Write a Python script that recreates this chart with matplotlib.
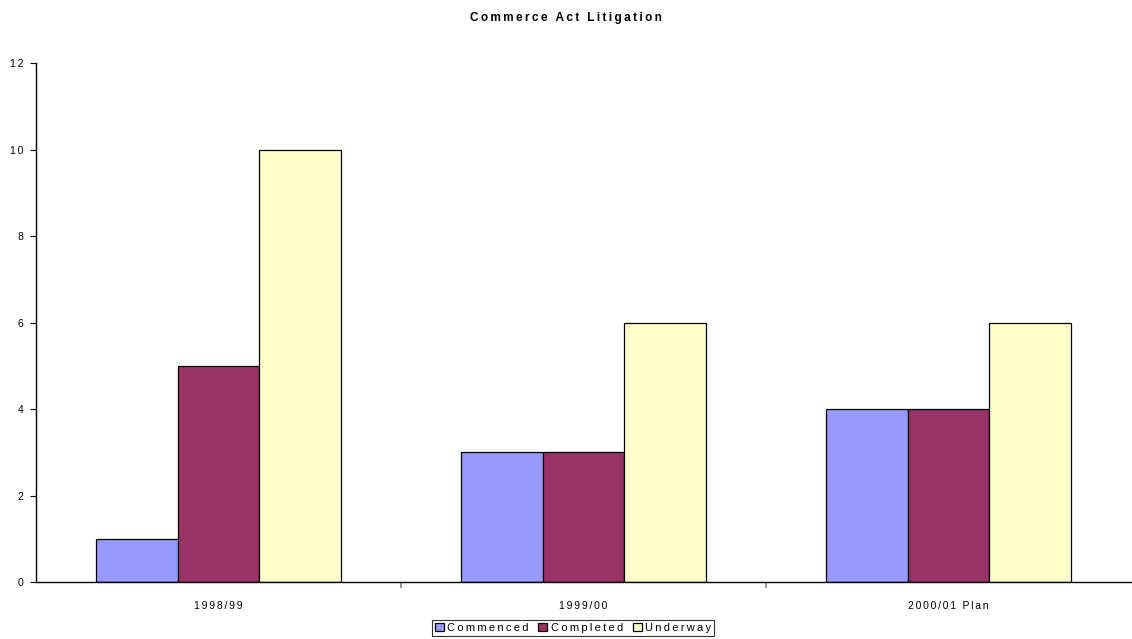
import numpy as np
import matplotlib.pyplot as plt

plt.rcParams['font.family'] = ['Liberation Sans', 'DejaVu Sans']

categories = ["1998/99", "1999/00", "2000/01 Plan"]
commenced = [1, 3, 4]
completed = [5, 3, 4]
underway = [10, 6, 6]

series = [
    ("Commenced", commenced, "#9999FF"),
    ("Completed", completed, "#993366"),
    ("Underway", underway, "#FFFFCC"),
]


def spaced(s, gap="\u2009"):
    # widen the tracking a little with narrow spaces between letters
    return gap.join(s)


fig = plt.figure(figsize=(11.32, 6.39), dpi=100)
ax = fig.add_axes([36 / 1132, 57 / 639, 1095 / 1132, 519 / 639])

x = np.arange(len(categories))
width = 0.224
for i, (name, vals, color) in enumerate(series):
    ax.bar(x + (i - 1) * width, vals, width, color=color,
           edgecolor="black", linewidth=0.9, label=spaced(name))

ax.set_xlim(-0.5, len(categories) - 0.5)
ax.set_ylim(0, 12)
ax.set_yticks(range(0, 13, 2))
ax.set_yticklabels([spaced(str(v), "\u2006") for v in range(0, 13, 2)])
ax.tick_params(axis="y", direction="out", length=4, width=0.8,
               labelsize=7.5, pad=5)

# category boundaries get the tick marks, labels sit at the centres
ax.set_xticks([0.5, 1.5])
ax.set_xticklabels([])
ax.tick_params(axis="x", which="major", direction="out", length=4,
               width=1.2, color="#888888")
ax.set_xticks(x, minor=True)
ax.set_xticklabels([spaced(c, "\u2006") for c in categories], minor=True,
                   fontsize=7.5)
ax.tick_params(axis="x", which="minor", length=0, pad=14)

for side in ["top", "right"]:
    ax.spines[side].set_visible(False)
for side in ["left", "bottom"]:
    ax.spines[side].set_linewidth(1.0)

fig.text(0.5, 1 - 18 / 639, spaced("Commerce Act Litigation"), ha="center",
         va="center", fontsize=8.5, fontweight="bold")

leg = fig.legend(loc="center", bbox_to_anchor=(573 / 1132, 11 / 639),
                 ncol=3, fontsize=8, frameon=True, fancybox=False,
                 handlelength=0.8, handleheight=0.8, handletextpad=0.3,
                 columnspacing=0.9, borderpad=0.25, borderaxespad=0)
leg.get_frame().set_edgecolor("black")
leg.get_frame().set_linewidth(0.8)

fig.savefig("out.png", dpi=100)
